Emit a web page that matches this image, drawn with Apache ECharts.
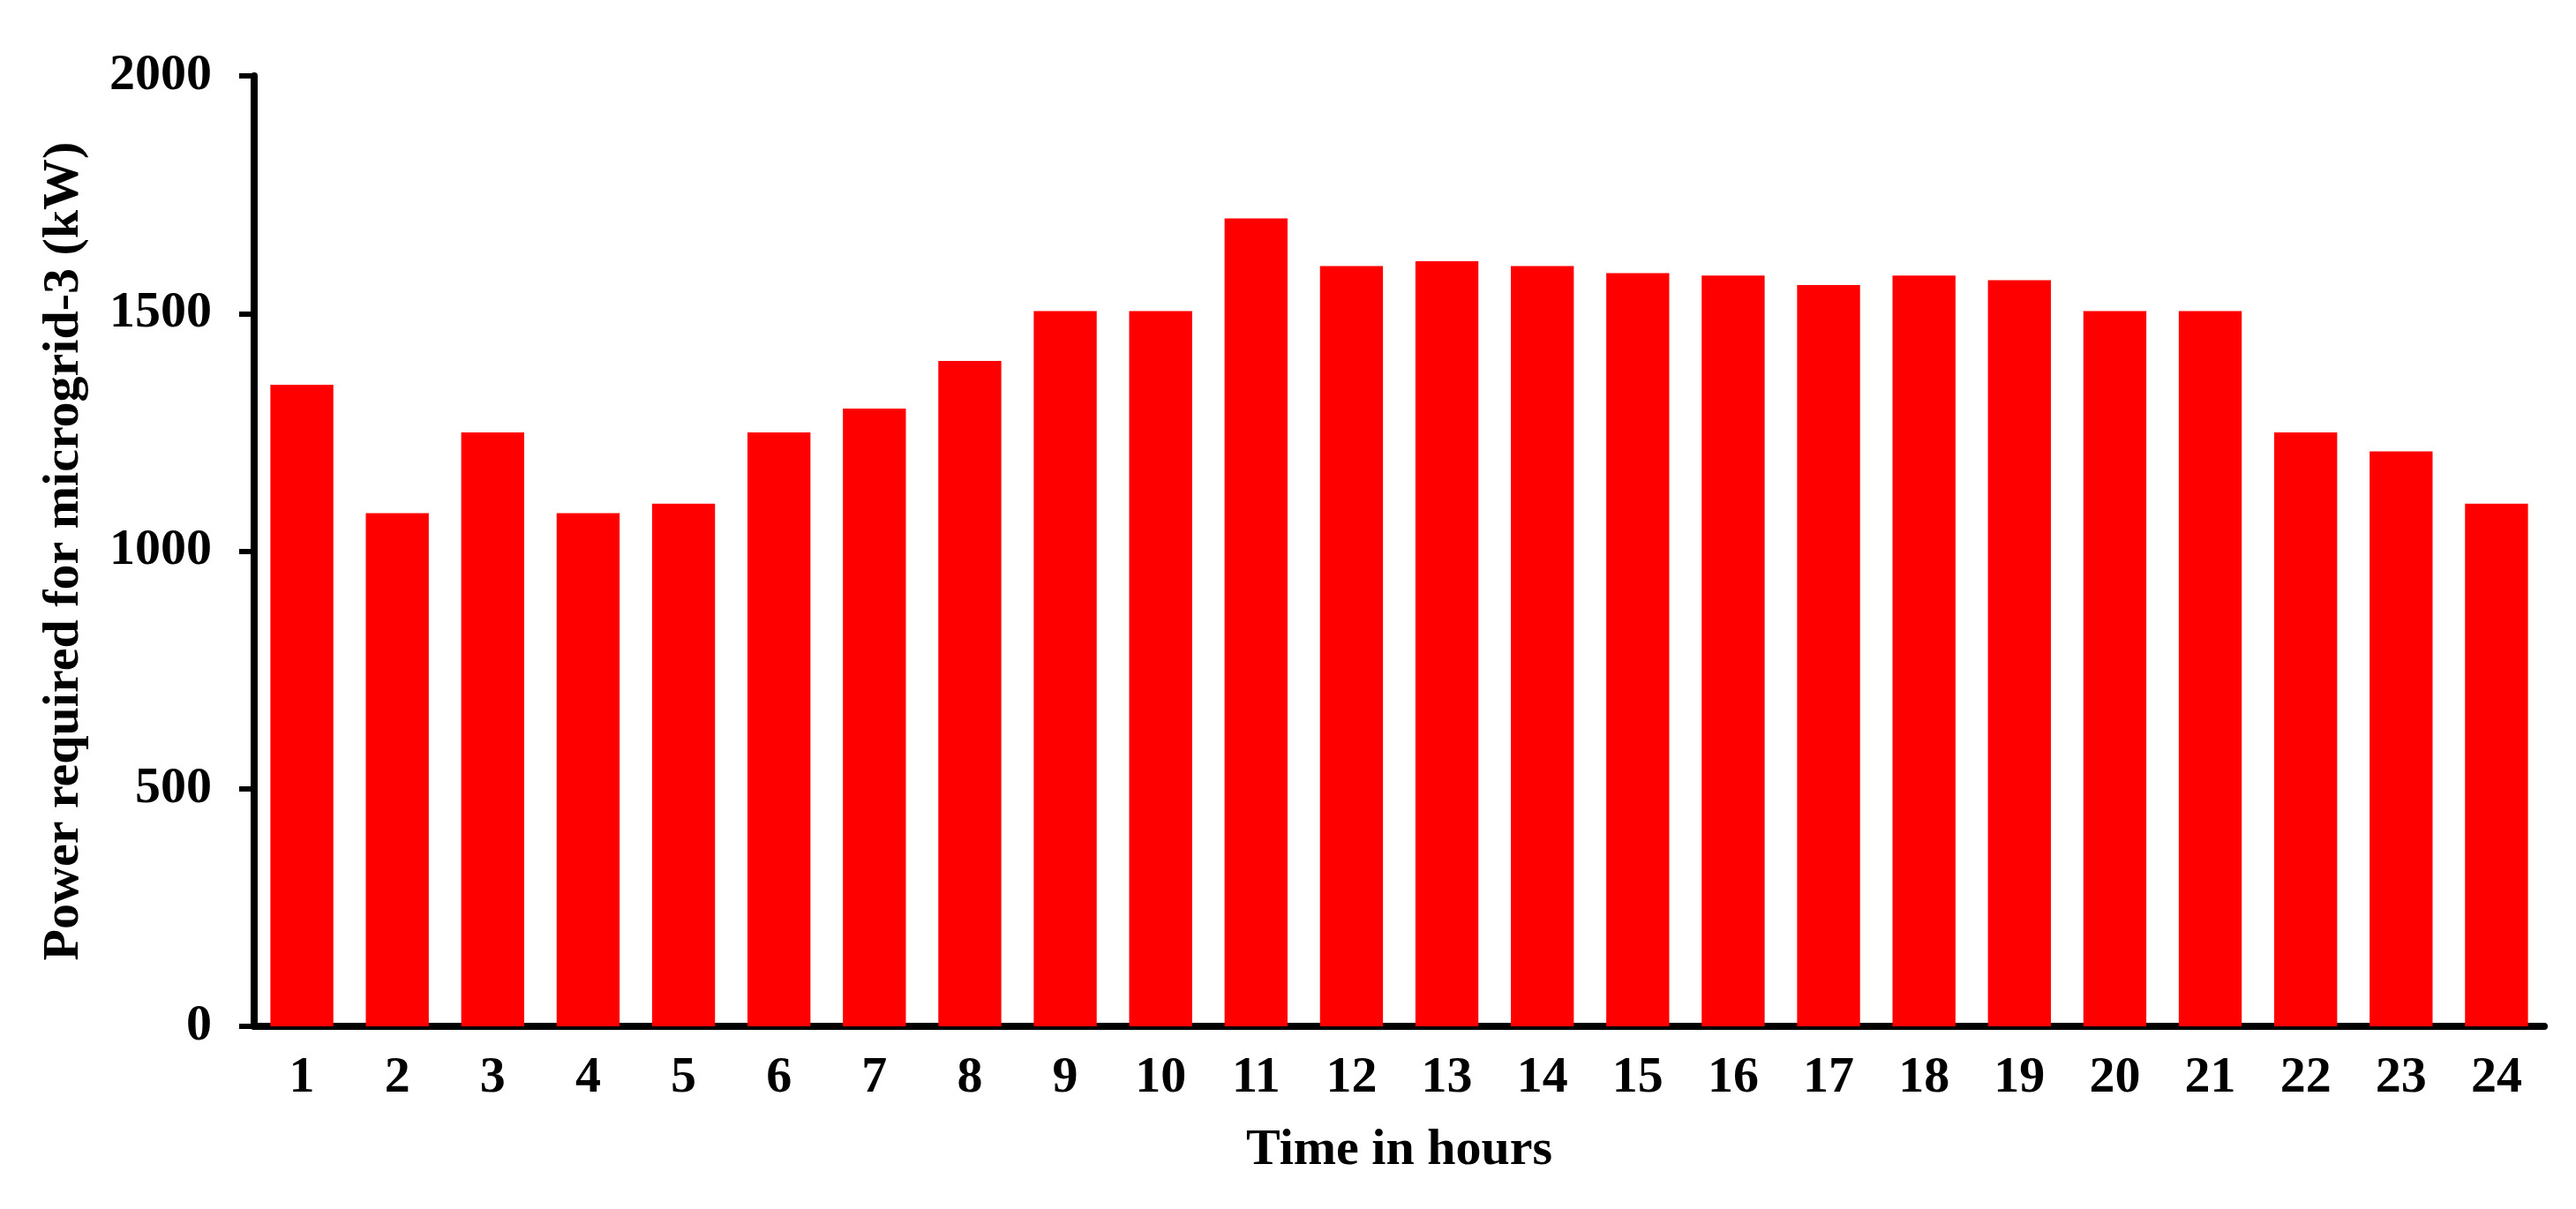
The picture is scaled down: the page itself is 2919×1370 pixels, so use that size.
<!DOCTYPE html>
<html>
<head>
<meta charset="utf-8">
<title>Power required for microgrid-3</title>
<script src="https://cdn.jsdelivr.net/npm/echarts/dist/echarts.min.js"></script>
<style>
  html, body { margin: 0; padding: 0; background: #fff; }
  #chart { width: 2919px; height: 1370px; }
</style>
</head>
<body>
<div id="chart"></div>
<script>
// hours on the x axis
var hours = ["1", "2", "3", "4", "5", "6", "7", "8", "9", "10", "11", "12",
  "13", "14", "15", "16", "17", "18", "19", "20", "21", "22", "23", "24"];
// power demand per hour (kW)
var powerKW = [1350, 1080, 1250, 1080, 1100, 1250, 1300, 1400, 1505, 1505, 1700, 1600,
  1610, 1600, 1585, 1580, 1560, 1580, 1570, 1505, 1505, 1250, 1210, 1100];
var yTicks = [0, 500, 1000, 1500, 2000];

var font = "'Liberation Serif', 'Times New Roman', serif";
var chart = echarts.init(document.getElementById("chart"));

chart.setOption({
  backgroundColor: "#fff",
  animation: false,
  grid: {
    left: 288,
    right: 36,
    top: 86,
    bottom: 207
  },
  xAxis: {
    type: "category",
    data: hours,
    name: "Time in hours",
    nameLocation: "middle",
    nameGap: 112,
    nameTextStyle: { fontFamily: font, fontWeight: "bold", fontSize: 58, color: "#000" },
    axisLine: { lineStyle: { color: "#000", width: 8 } },
    axisTick: { length: 17, lineStyle: { color: "#000", width: 6 } },
    axisLabel: { margin: 30, fontFamily: font, fontWeight: "bold", fontSize: 58, color: "#000", interval: 0 }
  },
  yAxis: {
    type: "value",
    min: yTicks[0],
    max: yTicks[yTicks.length - 1],
    interval: yTicks[1] - yTicks[0],
    name: "Power required for microgrid-3 (kW)",
    nameLocation: "middle",
    nameGap: 186,
    nameTextStyle: { fontFamily: font, fontWeight: "bold", fontSize: 58, color: "#000" },
    axisLine: { show: true, lineStyle: { color: "#000", width: 8 } },
    axisTick: { show: true, length: 17, lineStyle: { color: "#000", width: 6 } },
    axisLabel: {
      margin: 48, fontFamily: font, fontWeight: "bold", fontSize: 58, color: "#000",
      formatter: function (v) { return String(v); } // no thousands separator
    },
    splitLine: { show: false }
  },
  series: [
    {
      type: "bar",
      data: powerKW,
      barCategoryGap: "34%",
      itemStyle: { color: "#ff0000" }
    }
  ]
});
</script>
</body>
</html>
